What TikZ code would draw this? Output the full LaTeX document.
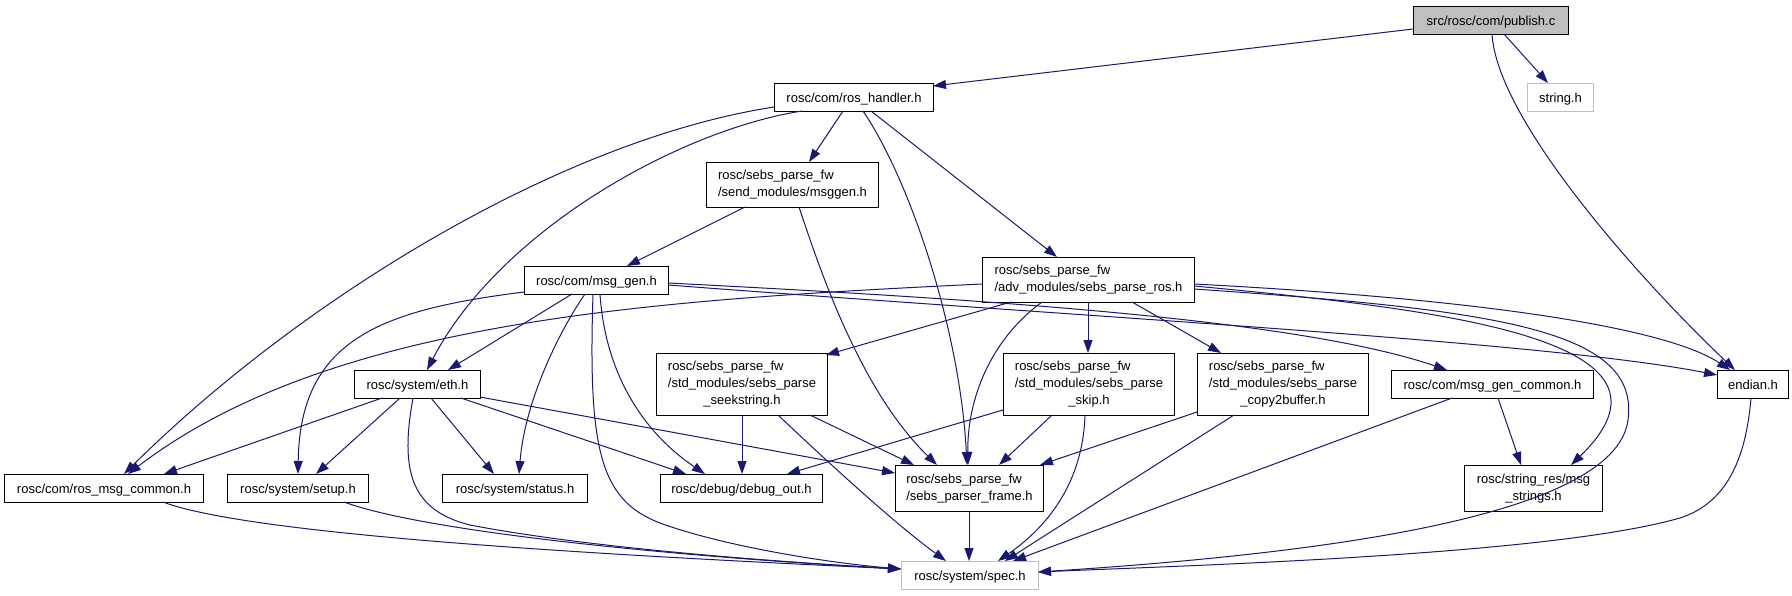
\documentclass[tikz,border=0pt]{standalone}
\usepackage{fontspec}
\setmainfont{Liberation Sans}
\usetikzlibrary{arrows.meta,calc}
\definecolor{mblue}{HTML}{191970}
\definecolor{greyS}{HTML}{BFBFBF}
\begin{document}
\begin{tikzpicture}[x=1pt,y=-1pt,
  box/.style={draw=black, line width=1pt, fill=white, inner sep=0pt, anchor=north west,
    font=\fontsize{13}{17}\selectfont},
  sbox/.style={box, text height=9.5pt, text depth=0.5pt},
  e/.style={draw=mblue, line width=1pt, -{Triangle[length=13pt,width=9pt]}}]
\useasboundingbox (0,0) rectangle (1792,595);
\fill[white] (0,0) rectangle (1792,595);
% nodes
\node[sbox, fill=greyS, minimum width=155, minimum height=28] (publish) at (1413,6) {src/rosc/com/publish.c};
\node[sbox, draw=greyS, minimum width=66, minimum height=28] (string) at (1527,83) {string.h};
\node[sbox, minimum width=159, minimum height=28] (rh) at (774,83) {rosc/com/ros\_handler.h};
\node[box, minimum width=172, minimum height=45] (msggen) at (706,162) {\begin{tabular}{@{}l@{}}rosc/sebs\_parse\_fw\\/send\_modules/msggen.h\end{tabular}};
\node[sbox, minimum width=144, minimum height=28] (mg) at (524,266) {rosc/com/msg\_gen.h};
\node[box, minimum width=212, minimum height=45] (spr) at (982,257) {\begin{tabular}{@{}l@{}}rosc/sebs\_parse\_fw\\/adv\_modules/sebs\_parse\_ros.h\end{tabular}};
\node[sbox, minimum width=126, minimum height=28] (eth) at (354,370) {rosc/system/eth.h};
\node[sbox, minimum width=199, minimum height=28] (rmc) at (4,474) {rosc/com/ros\_msg\_common.h};
\node[sbox, minimum width=141, minimum height=28] (setup) at (227,474) {rosc/system/setup.h};
\node[sbox, minimum width=145, minimum height=28] (status) at (442,474) {rosc/system/status.h};
\node[box, minimum width=171, minimum height=62] (seek) at (656,353) {\begin{tabular}{@{}l@{}}rosc/sebs\_parse\_fw\\/std\_modules/sebs\_parse\\\multicolumn{1}{@{}c@{}}{\_seekstring.h}\end{tabular}};
\node[sbox, minimum width=162, minimum height=28] (dbg) at (660,474) {rosc/debug/debug\_out.h};
\node[box, minimum width=148, minimum height=46] (pf) at (895,465) {\begin{tabular}{@{}l@{}}rosc/sebs\_parse\_fw\\/sebs\_parser\_frame.h\end{tabular}};
\node[sbox, draw=greyS, minimum width=137, minimum height=28] (spec) at (901,561) {rosc/system/spec.h};
\node[box, minimum width=171, minimum height=62] (skip) at (1003,353) {\begin{tabular}{@{}l@{}}rosc/sebs\_parse\_fw\\/std\_modules/sebs\_parse\\\multicolumn{1}{@{}c@{}}{\_skip.h}\end{tabular}};
\node[box, minimum width=171, minimum height=62] (c2b) at (1197,353) {\begin{tabular}{@{}l@{}}rosc/sebs\_parse\_fw\\/std\_modules/sebs\_parse\\\multicolumn{1}{@{}c@{}}{\_copy2buffer.h}\end{tabular}};
\node[sbox, minimum width=202, minimum height=28] (mgc) at (1391,370) {rosc/com/msg\_gen\_common.h};
\node[box, minimum width=138, minimum height=46] (mstr) at (1464,465) {\begin{tabular}{@{}l@{}}rosc/string\_res/msg\\\multicolumn{1}{@{}c@{}}{\_strings.h}\end{tabular}};
\node[sbox, minimum width=71, minimum height=28] (endian) at (1717,370) {endian.h};
% edges
\draw[e] ($(publish.north west)+(0,23)$) -- ($(rh.north west)+(159,3)$);
\draw[e] ($(publish.north west)+(91,28)$) -- ($(string.north west)+(21,0)$);
\draw[e] ($(publish.north west)+(79,28)$) .. controls (1497,120) and (1640,280) .. ($(endian.north west)+(18,0)$);
\draw[e] ($(rh.north west)+(0,24)$) .. controls (560,140) and (300,300) .. ($(rmc.north west)+(120,0)$);
\draw[e] ($(rh.north west)+(28,28)$) .. controls (680,130) and (500,230) .. ($(eth.north west)+(73,0)$);
\draw[e] ($(rh.north west)+(69,28)$) -- ($(msggen.north west)+(103,0)$);
\draw[e] ($(rh.north west)+(89,28)$) .. controls (910,180) and (960,330) .. ($(pf.north west)+(72,0)$);
\draw[e] ($(rh.north west)+(97,28)$) -- ($(spr.north west)+(75,0)$);
\draw[e] ($(msggen.north west)+(39,45)$) -- ($(mg.north west)+(103,0)$);
\draw[e] ($(msggen.north west)+(93,45)$) .. controls (820,270) and (860,390) .. ($(pf.north west)+(42,0)$);
\draw[e] ($(mg.north west)+(48,28)$) -- ($(eth.north west)+(94,0)$);
\draw[e] ($(mg.north west)+(0,26)$) .. controls (380,310) and (300,340) .. ($(setup.north west)+(71,0)$);
\draw[e] ($(mg.north west)+(61,28)$) .. controls (560,330) and (525,400) .. ($(status.north west)+(77,0)$);
\draw[e] ($(mg.north west)+(69,28)$) .. controls (588,450) and (600,500) .. (660,523) .. controls (720,545) and (820,562) .. ($(spec.north west)+(0,8)$);
\draw[e] ($(mg.north west)+(76,28)$) .. controls (605,370) and (640,430) .. ($(dbg.north west)+(45,0)$);
\draw[e] ($(mg.north west)+(144,17)$) .. controls (1000,300) and (1300,320) .. ($(mgc.north west)+(56,0)$);
\draw[e] ($(mg.north west)+(144,19)$) .. controls (1100,318) and (1550,342) .. ($(endian.north west)+(0,5)$);
\draw[e] ($(spr.north west)+(0,27)$) .. controls (650,300) and (330,320) .. ($(rmc.north west)+(124,0)$);
\draw[e] ($(spr.north west)+(29,45)$) -- ($(seek.north west)+(170,2)$);
\draw[e] ($(spr.north west)+(60,45)$) .. controls (990,340) and (967,400) .. ($(pf.north west)+(73,0)$);
\draw[e] ($(spr.north west)+(106,45)$) -- ($(skip.north west)+(85,0)$);
\draw[e] ($(spr.north west)+(150,45)$) -- ($(c2b.north west)+(24,0)$);
\draw[e] ($(spr.north west)+(212,29)$) .. controls (1450,310) and (1700,340) .. ($(mstr.north west)+(107,0)$);
\draw[e] ($(spr.north west)+(212,32)$) .. controls (1500,310) and (1640,330) .. (1628,420) .. controls (1615,520) and (1300,555) .. ($(spec.north west)+(137,11)$);
\draw[e] ($(spr.north west)+(212,27)$) .. controls (1500,300) and (1670,330) .. ($(endian.north west)+(13,0)$);
\draw[e] ($(eth.north west)+(28,28)$) -- ($(rmc.north west)+(160,0)$);
\draw[e] ($(eth.north west)+(46,28)$) -- ($(setup.north west)+(89,0)$);
\draw[e] ($(eth.north west)+(77,28)$) -- ($(status.north west)+(52,0)$);
\draw[e] ($(eth.north west)+(107,28)$) -- ($(dbg.north west)+(26,0)$);
\draw[e] ($(eth.north west)+(126,27)$) -- ($(pf.north west)+(0,8)$);
\draw[e] ($(eth.north west)+(59,28)$) .. controls (400,470) and (410,510) .. (470,525) .. controls (600,550) and (800,563) .. ($(spec.north west)+(0,8)$);
\draw[e] ($(seek.north west)+(86,62)$) -- ($(dbg.north west)+(82,0)$);
\draw[e] ($(seek.north west)+(154,62)$) -- ($(pf.north west)+(19,0)$);
\draw[e] ($(seek.north west)+(122,62)$) .. controls (815,450) and (890,520) .. ($(spec.north west)+(45,0)$);
\draw[e] ($(skip.north west)+(0,57)$) -- ($(dbg.north west)+(127,0)$);
\draw[e] ($(skip.north west)+(49,62)$) -- ($(pf.north west)+(104,0)$);
\draw[e] ($(skip.north west)+(82,62)$) .. controls (1083,480) and (1050,525) .. ($(spec.north west)+(97,0)$);
\draw[e] ($(c2b.north west)+(0,59)$) -- ($(pf.north west)+(145,0)$);
\draw[e] ($(c2b.north west)+(37,62)$) -- ($(spec.north west)+(104,0)$);
\draw[e] ($(mgc.north west)+(61,28)$) -- ($(spec.north west)+(112,0)$);
\draw[e] ($(mgc.north west)+(107,28)$) -- ($(mstr.north west)+(57,0)$);
\draw[e] ($(pf.north west)+(74,46)$) -- ($(spec.north west)+(68,0)$);
\draw[e] ($(rmc.north west)+(159,28)$) .. controls (250,535) and (600,555) .. ($(spec.north west)+(0,8)$);
\draw[e] ($(setup.north west)+(117,28)$) .. controls (420,530) and (650,555) .. ($(spec.north west)+(0,8)$);
\draw[e] ($(endian.north west)+(34,28)$) .. controls (1745,470) and (1720,505) .. (1680,518) .. controls (1550,555) and (1200,565) .. ($(spec.north west)+(137,11)$);
\end{tikzpicture}
\end{document}
